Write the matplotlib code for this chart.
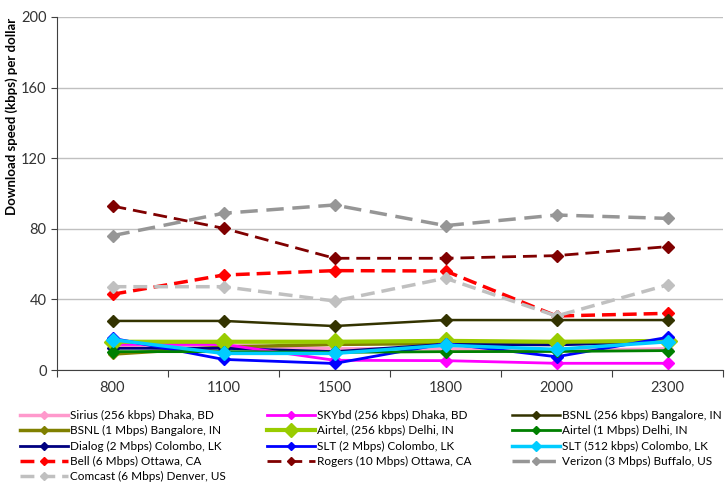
import numpy as np
import matplotlib
matplotlib.use("Agg")
import matplotlib.pyplot as plt

plt.rcParams["font.family"] = ["Lato", "DejaVu Sans"]

CATEGORIES = ["800", "1100", "1500", "1800", "2000", "2300"]

SIRIUS = [14, 14, 12, 12, 11, 12]
SKYBD = [14.5, 14.5, 5.5, 5.3, 3.8, 3.8]
BSNL_256 = [27.8, 27.8, 24.9, 28.3, 28.3, 28.3]
BSNL_1M = [9, 13, 14.5, 15, 15, 16]
AIRTEL_256 = [16, 16, 16, 16.5, 16, 16.5]
AIRTEL_1M = [10.4, 10.4, 10, 10.4, 10.5, 11]
DIALOG = [12.3, 12.3, 10.4, 14.6, 14.2, 16]
SLT_2M = [18, 6, 3.7, 15, 7.5, 18.5]
SLT_512 = [17.2, 9.4, 9.4, 14, 11.7, 16]
BELL = [42.9, 53.8, 56.3, 56.1, 30.6, 32.1]
ROGERS = [92.9, 80.3, 63.3, 63.3, 64.8, 69.9]
VERIZON = [76.1, 88.8, 93.5, 81.8, 87.8, 85.9]
COMCAST = [47.2, 47.2, 39.1, 52.0, 30.6, 48.2]

# name, values, colour, linestyle, linewidth, marker size -- grouped by legend column
COLUMNS = [
    [
        ("Sirius (256 kbps) Dhaka, BD", SIRIUS, "#FF99CC", "-", 2.5, 5),
        ("BSNL (1 Mbps) Bangalore, IN", BSNL_1M, "#808000", "-", 2.5, 5),
        ("Dialog (2 Mbps) Colombo, LK", DIALOG, "#000080", "-", 2.0, 6),
        ("Bell (6 Mbps) Ottawa, CA", BELL, "#FF0000", (0, (4, 2)), 2.5, 6),
        ("Comcast (6 Mbps) Denver, US", COMCAST, "#C0C0C0", (0, (4, 2)), 2.5, 6),
    ],
    [
        ("SKYbd (256 kbps) Dhaka, BD", SKYBD, "#FF00FF", "-", 2.0, 6),
        ("Airtel, (256 kbps) Delhi, IN", AIRTEL_256, "#99CC00", "-", 3.0, 9),
        ("SLT (2 Mbps) Colombo, LK", SLT_2M, "#0000FF", "-", 2.0, 6),
        ("Rogers (10 Mbps) Ottawa, CA", ROGERS, "#800000", (0, (5, 2.5)), 2.0, 6),
    ],
    [
        ("BSNL (256 kbps) Bangalore, IN", BSNL_256, "#333300", "-", 1.8, 6),
        ("Airtel (1 Mbps) Delhi, IN", AIRTEL_1M, "#008000", "-", 2.0, 6),
        ("SLT (512 kbps) Colombo, LK", SLT_512, "#00CCFF", "-", 2.5, 7),
        ("Verizon (3 Mbps) Buffalo, US", VERIZON, "#969696", (0, (5, 2.5)), 2.5, 6),
    ],
]
LEGEND_X = [20, 267, 512]

fig = plt.figure(figsize=(7.25, 4.83), dpi=100)
ax = fig.add_axes([57 / 725, 1 - 370 / 483, 666 / 725, 353 / 483])

x = np.arange(len(CATEGORIES))
col_handles = []
for col in COLUMNS:
    handles = []
    for name, vals, color, ls, lw, ms in col:
        line, = ax.plot(x, vals, color=color, linestyle=ls, linewidth=lw,
                        marker="D", markersize=ms, label=name)
        handles.append(line)
    col_handles.append(handles)

ax.set_xlim(-0.5, len(CATEGORIES) - 0.5)
ax.set_ylim(0, 200)
ax.set_yticks(range(0, 201, 40))
ax.yaxis.grid(True, color="#C0C0C0", linewidth=1)
ax.set_axisbelow(True)

ax.set_xticks(np.arange(-0.5, len(CATEGORIES), 1))
ax.set_xticklabels([])
ax.set_xticks(x, minor=True)
ax.set_xticklabels(CATEGORIES, minor=True)
ax.tick_params(axis="x", which="major", length=5, color="#404040")
ax.tick_params(axis="x", which="minor", length=0, pad=8, labelsize=10.5,
               labelcolor="#333333")
ax.tick_params(axis="y", length=4, labelsize=10.5, labelcolor="#333333",
               color="#404040")

for side in ["top", "right"]:
    ax.spines[side].set_visible(False)
ax.spines["left"].set_color("#404040")
ax.spines["bottom"].set_color("#404040")

ax.set_ylabel("Download speed (kbps) per dollar", fontsize=9.5,
              fontweight="bold")
ax.yaxis.set_label_coords(-0.059, 0.717)

fs = 8.5
for handles, lx in zip(col_handles, LEGEND_X):
    fig.legend(handles=handles, loc="upper left",
               bbox_to_anchor=(lx / 725, 1 - 410 / 483), ncol=1,
               frameon=False, fontsize=fs, handlelength=48 / (fs * 100 / 72),
               handletextpad=0.2, labelspacing=0.36, borderaxespad=0,
               borderpad=0, markerscale=0.75)

fig.savefig("out.png", dpi=100)
